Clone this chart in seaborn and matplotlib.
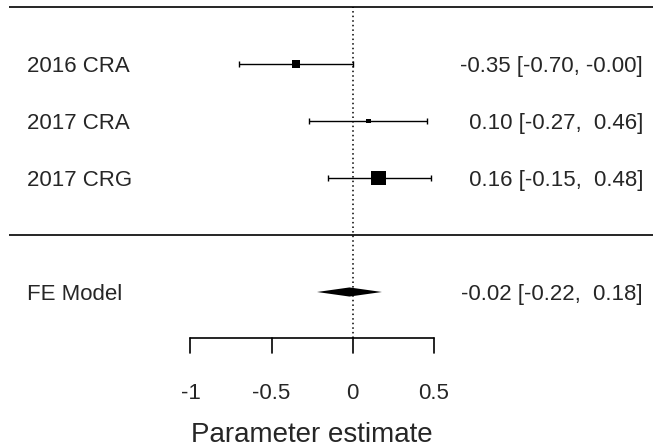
import numpy as np
import pandas as pd
import seaborn as sns
import matplotlib.pyplot as plt

# --- data ---
studies = ["2016 CRA", "2017 CRA", "2017 CRG"]
estimates = [-0.35, 0.10, 0.16]
ci_lower = [-0.70, -0.27, -0.15]
ci_upper = [-0.00, 0.46, 0.48]

fe_label = "FE Model"
fe_estimate = -0.02
fe_lower = -0.22
fe_upper = 0.18

tick_values = [-1, -0.5, 0, 0.5]
tick_labels = ["-1", "-0.5", "0", "0.5"]

sns.set_style("white")
plt.rcParams["font.family"] = ["Liberation Sans", "DejaVu Sans"]

df = pd.DataFrame({"study": studies, "est": estimates,
                   "lo": ci_lower, "hi": ci_upper})
df["row"] = np.arange(len(df), 0, -1)  # top study on highest row

# square size like metafor: 1/se rescaled between 0.5 and 1.5
se = (df["hi"] - df["lo"]) / (2 * 1.96)
w = 1 / se
psize = (w - w.min()) / (w.max() - w.min()) + 0.5
side_pt = psize * 9.8 * 0.72
size_map = dict(zip(df["study"], side_pt ** 2))

fig = plt.figure(figsize=(6.53, 4.48), dpi=100)
ax = fig.add_axes([0, 0, 1, 1])
ax.set_xlim(-2.174, 1.851)
ax.set_ylim(-3.737, 4.123)
ax.axis("off")

# horizontal rules
ax.hlines([4, 0], xmin=-2.119, xmax=1.851, color="black", lw=1.2)

# reference line at zero
axis_row = -1.807
ax.plot([0, 0], [axis_row, 4], color="black", lw=1.1, linestyle=(0, (1, 2)))

# confidence intervals
ax.errorbar(df["est"], df["row"],
            xerr=[df["est"] - df["lo"], df["hi"] - df["est"]],
            fmt="none", ecolor="black", elinewidth=1, capsize=2.3, capthick=1)

# point estimates
sns.scatterplot(data=df, x="est", y="row", size="study", sizes=size_map,
                marker="s", color="black", edgecolor="black", linewidth=0,
                legend=False, ax=ax, zorder=3)

# summary diamond
fe_row = -1
ax.fill([fe_lower, fe_estimate, fe_upper, fe_estimate],
        [fe_row, fe_row + 0.08, fe_row, fe_row - 0.08],
        color="black", lw=0)

# left labels and right annotations
label_x = -2.005
text_x = 1.790
for _, r in df.iterrows():
    ax.text(label_x, r["row"], r["study"], fontsize=16, ha="left", va="center_baseline")
    ax.text(text_x, r["row"], f"{r['est']:5.2f} [{r['lo']:5.2f}, {r['hi']:5.2f}]",
            fontsize=16, ha="right", va="center_baseline")
ax.text(label_x, fe_row, fe_label, fontsize=16, ha="left", va="center_baseline")
ax.text(text_x, fe_row, f"{fe_estimate:5.2f} [{fe_lower:5.2f}, {fe_upper:5.2f}]",
        fontsize=16, ha="right", va="center_baseline")

# drawn x axis
ax.plot([tick_values[0], tick_values[-1]], [axis_row, axis_row], color="black", lw=1.2)
for tv, tl in zip(tick_values, tick_labels):
    ax.plot([tv, tv], [axis_row, -2.07], color="black", lw=1.2)
    ax.text(tv, -2.74, tl, fontsize=16, ha="center", va="center_baseline")
ax.text(np.mean([tick_values[0], tick_values[-1]]), -3.45, "Parameter estimate",
        fontsize=20, ha="center", va="center_baseline")

fig.savefig("out.png", dpi=100)
